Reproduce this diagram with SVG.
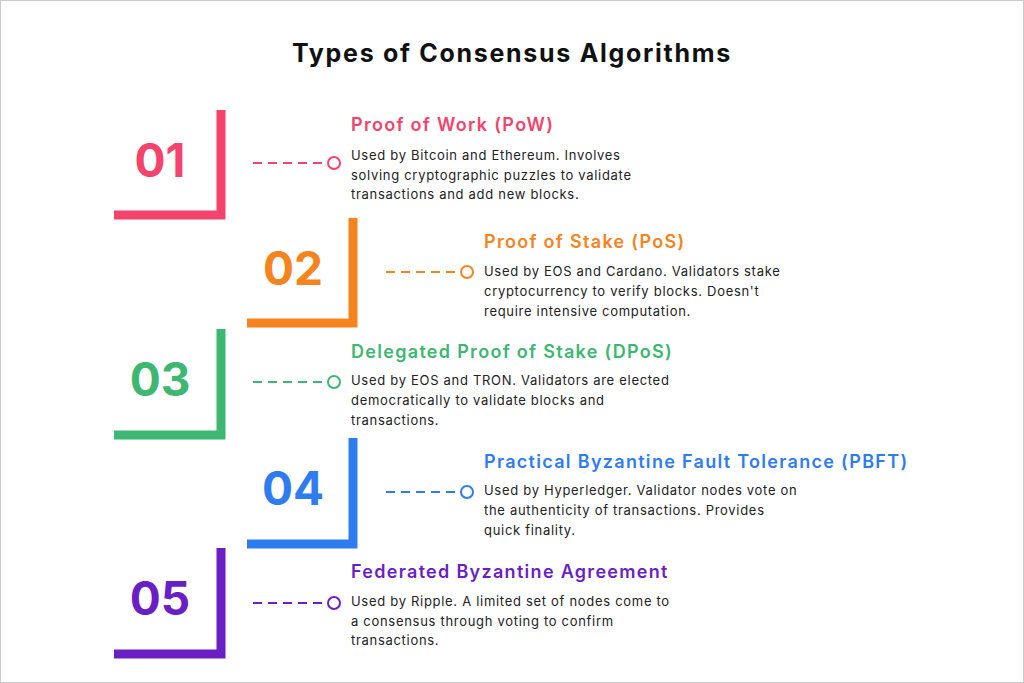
<svg xmlns="http://www.w3.org/2000/svg" width="1024" height="683" viewBox="0 0 1024 683">
<style>
text{font-family:Inter,"Open Sans","Liberation Sans",sans-serif}
.num{font-size:46px;font-weight:700;text-anchor:middle}
.t{font-size:18px;font-weight:600;letter-spacing:1.3px}
.d{font-size:13px;fill:#222;letter-spacing:0.7px}
.dash{stroke-width:2;stroke-dasharray:9,6;fill:none}
.c{fill:#fff;stroke-width:2}
</style>
<rect x="0.5" y="0.5" width="1023" height="682" fill="#fff" stroke="#ccc"/>
<text x="512" y="62" text-anchor="middle" font-size="25" font-weight="700" fill="#111" letter-spacing="1.7">Types of Consensus Algorithms</text>
<g id="item1">
<path d="M114 215H221V110" fill="none" stroke="#F4436C" stroke-width="9"/>
<text class="num" x="160" y="177" fill="#F4436C">01</text>
<text class="t" x="351" y="131" fill="#F4436C">Proof of Work (PoW)</text>
<text class="d" x="351" y="160">Used by Bitcoin and Ethereum. Involves</text>
<text class="d" x="351" y="180">solving cryptographic puzzles to validate</text>
<text class="d" x="351" y="199">transactions and add new blocks.</text>
</g>
<g id="item2">
<path d="M247 323H353V218" fill="none" stroke="#F5841F" stroke-width="9"/>
<text class="num" x="293" y="285" fill="#F5841F">02</text>
<text class="t" x="484" y="248" fill="#F5841F">Proof of Stake (PoS)</text>
<text class="d" x="484" y="276">Used by EOS and Cardano. Validators stake</text>
<text class="d" x="484" y="296">cryptocurrency to verify blocks. Doesn't</text>
<text class="d" x="484" y="316">require intensive computation.</text>
</g>
<g id="item3">
<path d="M114 435H221V329" fill="none" stroke="#3DB771" stroke-width="9"/>
<text class="num" x="160" y="396" fill="#3DB771">03</text>
<text class="t" x="351" y="358" fill="#3DB771">Delegated Proof of Stake (DPoS)</text>
<text class="d" x="351" y="385">Used by EOS and TRON. Validators are elected</text>
<text class="d" x="351" y="405">democratically to validate blocks and</text>
<text class="d" x="351" y="425">transactions.</text>
</g>
<g id="item4">
<path d="M247 544H353V438" fill="none" stroke="#2F7CF0" stroke-width="9"/>
<text class="num" x="293" y="505" fill="#2F7CF0">04</text>
<text class="t" x="484" y="468" fill="#2F7CF0">Practical Byzantine Fault Tolerance (PBFT)</text>
<text class="d" x="484" y="495">Used by Hyperledger. Validator nodes vote on</text>
<text class="d" x="484" y="515">the authenticity of transactions. Provides</text>
<text class="d" x="484" y="535">quick finality.</text>
</g>
<g id="item5">
<path d="M114 654H221V548" fill="none" stroke="#6A1FC4" stroke-width="9"/>
<text class="num" x="160" y="615" fill="#6A1FC4">05</text>
<text class="t" x="351" y="578" fill="#6A1FC4">Federated Byzantine Agreement</text>
<text class="d" x="351" y="606">Used by Ripple. A limited set of nodes come to</text>
<text class="d" x="351" y="626">a consensus through voting to confirm</text>
<text class="d" x="351" y="645">transactions.</text>
</g>
<g id="connectors">
<line class="dash" x1="253" y1="163" x2="327" y2="163" stroke="#F4436C"/><circle class="c" cx="334" cy="163" r="6" stroke="#F4436C"/>
<line class="dash" x1="386" y1="272" x2="460" y2="272" stroke="#F5841F"/><circle class="c" cx="467" cy="272" r="6" stroke="#F5841F"/>
<line class="dash" x1="253" y1="382" x2="327" y2="382" stroke="#3DB771"/><circle class="c" cx="334" cy="382" r="6" stroke="#3DB771"/>
<line class="dash" x1="386" y1="492" x2="460" y2="492" stroke="#2F7CF0"/><circle class="c" cx="467" cy="492" r="6" stroke="#2F7CF0"/>
<line class="dash" x1="253" y1="603" x2="327" y2="603" stroke="#6A1FC4"/><circle class="c" cx="334" cy="603" r="6" stroke="#6A1FC4"/>
</g>
</svg>
